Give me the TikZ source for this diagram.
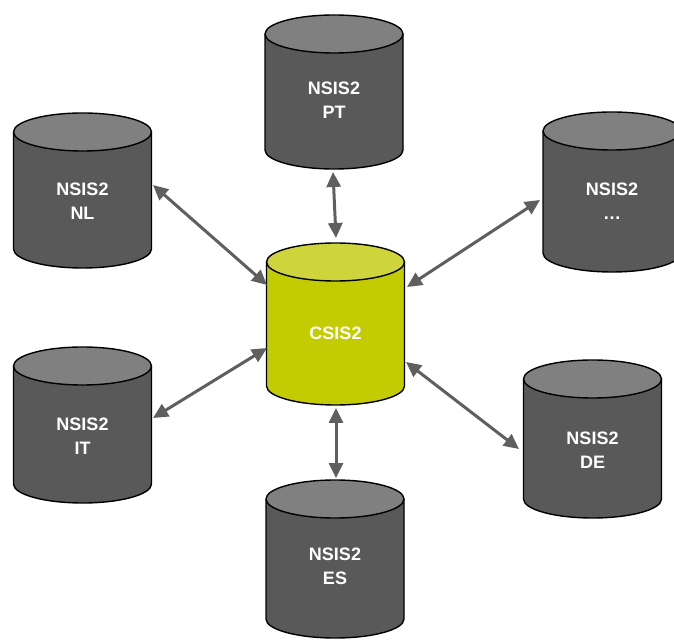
\documentclass[tikz,border=0pt]{standalone}
\usepackage{fontspec}
\setmainfont{Liberation Sans}
\usetikzlibrary{arrows.meta}
\definecolor{dbbody}{HTML}{595959}
\definecolor{dbtop}{HTML}{808080}
\definecolor{cbody}{HTML}{C3CB02}
\definecolor{ctop}{HTML}{CDD43C}
\definecolor{arrgray}{HTML}{5F5F5F}
\tikzset{
  outl/.style={draw=black,line width=1.4pt},
  lab/.style={text=white,font=\fontsize{18}{24}\selectfont\bfseries,align=center,inner sep=0pt},
  arr/.style={draw=arrgray,line width=3pt,{Triangle[length=15pt,width=14pt]}-{Triangle[length=15pt,width=14pt]}}
}
\newcommand\dbcyl[8]{%
  \pgfmathsetmacro\cyT{640-#3}%
  \pgfmathsetmacro\cyB{640-#3-#4}%
  \fill[#5] (#2-69,\cyT) -- (#2-69,\cyB) arc[start angle=180,end angle=360,x radius=69,y radius=19] -- (#2+69,\cyT) -- cycle;
  \draw[outl] (#2-69,\cyT) -- (#2-69,\cyB) arc[start angle=180,end angle=360,x radius=69,y radius=19] -- (#2+69,\cyT);
  \filldraw[fill=#6,outl] (#2,\cyT) ellipse[x radius=69,y radius=19];
  \node[lab] (#1) at (#2,640-#8) {#7};
}
\begin{document}
\begin{tikzpicture}[x=1pt,y=1pt]
\useasboundingbox (0,0) rectangle (674,640);
\fill[white] (0,0) rectangle (674,640);
\dbcyl{PT}{334}{34}{116}{dbbody}{dbtop}{NSIS2\\PT}{100}
\dbcyl{NL}{82.5}{132}{117}{dbbody}{dbtop}{NSIS2\\NL}{201}
\dbcyl{XX}{612}{131}{122}{dbbody}{dbtop}{NSIS2\\\ldots}{201}
\dbcyl{C}{335.5}{262}{124}{cbody}{ctop}{CSIS2}{333.5}
\dbcyl{IT}{82.5}{366}{118}{dbbody}{dbtop}{NSIS2\\IT}{436.5}
\dbcyl{DE}{592.5}{379}{120}{dbbody}{dbtop}{NSIS2\\DE}{450.5}
\dbcyl{ES}{335}{499}{120}{dbbody}{dbtop}{NSIS2\\ES}{566.5}
\draw[arr] ([shift={(-1,-72)}]PT.center) -- ([shift={(0.5,95.5)}]C.center);
\draw[arr] ([shift={(70.5,16)}]NL.center) -- ([shift={(-68.5,48.5)}]C.center);
\draw[arr] ([shift={(-72,1)}]XX.center) -- ([shift={(71.5,46.5)}]C.center);
\draw[arr] ([shift={(70.5,18.5)}]IT.center) -- ([shift={(-68.5,-14.5)}]C.center);
\draw[arr] ([shift={(-73.5,1.5)}]DE.center) -- ([shift={(70.5,-28.5)}]C.center);
\draw[arr] ([shift={(1,88.5)}]ES.center) -- ([shift={(0.5,-74.5)}]C.center);
\end{tikzpicture}
\end{document}
